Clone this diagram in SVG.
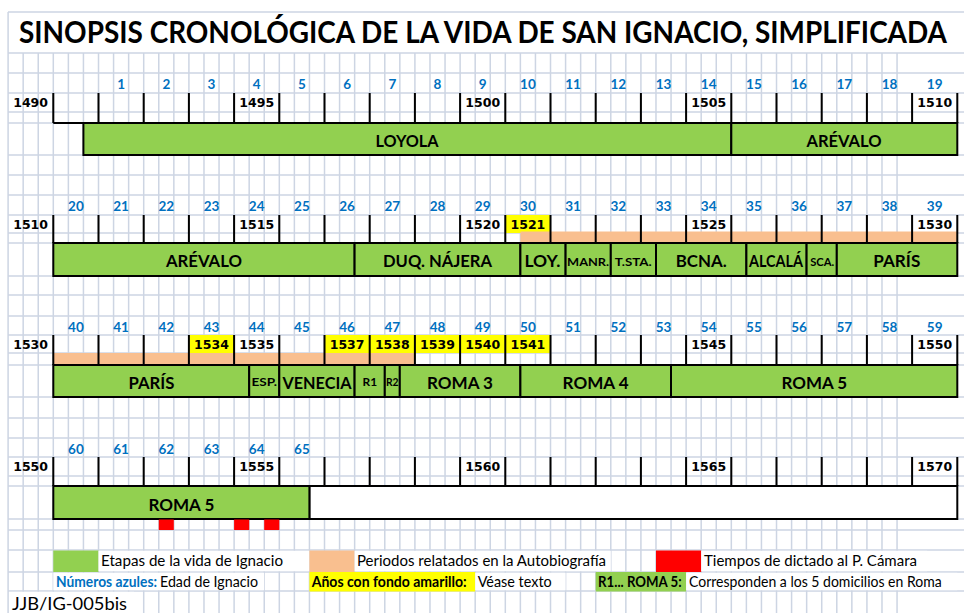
<svg xmlns="http://www.w3.org/2000/svg" width="964" height="613" viewBox="0 0 964 613">
<style>
.grid{fill:none;stroke:#cdd5e3;stroke-width:1.5}
.blk{fill:none;stroke:#000;stroke-width:2}
.bar{fill:#92d050;stroke:#000;stroke-width:2}
.wbar{fill:#fff;stroke:#000;stroke-width:2}
.yel{fill:#ffff00}
.ora{fill:#f9bf8f}
.red{fill:#ff0000}
.wh{fill:#fff}
.lbl{font-family:Lato,"Liberation Sans",sans-serif;font-weight:700;font-size:17px;fill:#000;text-anchor:middle}
.sm{font-size:12px}
.age{font-family:Lato,"Liberation Sans",sans-serif;font-weight:700;font-size:13.5px;fill:#0070c0;text-anchor:middle}
.yr{font-family:"DejaVu Sans",Verdana,sans-serif;font-weight:700;font-size:12.5px;fill:#000;text-anchor:middle}
.leg{font-family:Lato,"Liberation Sans",sans-serif;font-size:15px;fill:#000}
.b{font-weight:700}
.title{font-family:Lato,"Liberation Sans",sans-serif;font-weight:700;font-size:30px;fill:#000}
</style>
<rect x="0" y="0" width="964" height="613" fill="#fff"/>

<g id="grid">
<path class="grid" d="M8.1 12V613M23.17 53V613m15.067-560V613m15.067-560V613m15.067-560V613m15.067-560V613m15.067-560V613m15.067-560V613m15.067-560V613m15.067-560V613m15.067-560V613m15.067-560V613m15.067-560V613m15.067-560V613m15.067-560V613m15.067-560V613m15.067-560V613m15.067-560V613m15.067-560V613m15.067-560V613m15.067-560V613m15.067-560V613m15.067-560V613m15.067-560V613m15.067-560V613m15.067-560V613m15.067-560V613m15.067-560V613m15.067-560V613m15.067-560V613m15.067-560V613m15.067-560V613m15.067-560V613m15.067-560V613m15.067-560V613m15.067-560V613m15.067-560V613m15.067-560V613m15.067-560V613m15.067-560V613m15.067-560V613m15.067-560V613m15.067-560V613m15.067-560V613m15.067-560V613m15.067-560V613m15.067-560V613m15.067-560V613m15.067-560V613m15.067-560V613m15.067-560V613m15.067-560V613m15.067-560V613m15.067-560V613m15.067-560V613m15.067-560V613m15.067-560V613m15.067-560V613m15.067-560V613m15.067-560V613"/>
<path class="grid" d="M8 12H964M8 53H964M8 73H964M8 93H964M8 112H964M8 123H964M8 155H964M8 175H964M8 195H964M8 215H964M8 233H964M8 243H964M8 276H964M8 295H964M8 316H964M8 335H964M8 353H964M8 365H964M8 397H964M8 418H964M8 438H964M8 457H964M8 476H964M8 486H964M8 519H964M8 530H964M8 550H964M8 572H964M8 591H964"/>
</g>

<g id="title">
<text class="title" x="19" y="43" textLength="928" lengthAdjust="spacingAndGlyphs">SINOPSIS CRONOLÓGICA DE LA VIDA DE SAN IGNACIO, SIMPLIFICADA</text>
</g>

<g id="highlights">
<rect class="yel" x="505.3" y="215" width="45.2" height="18"/>
<rect class="yel" x="188.9" y="335" width="45.2" height="18"/>
<rect class="yel" x="324.5" y="335" width="226" height="18"/>
<rect class="ora" x="520.4" y="231.5" width="436.9" height="11.5"/>
<rect class="ora" x="53.3" y="353" width="361.6" height="12"/>
</g>

<g id="timeline-lines">
<path class="blk" d="M53.3 93v30m45.2-30v30m45.2-30v30m45.2-30v30m45.2-30v30m45.2-30v30m45.2-30v30m45.2-30v30m45.2-30v30m45.2-30v30m45.2-30v30m45.2-30v30m45.2-30v30m45.2-30v30m45.2-30v30m45.2-30v30m45.2-30v30m45.2-30v30m45.2-30v30m45.2-30v30m45.2-30v30M53.3 123H957.3"/>
<path class="blk" d="M53.3 215v28m45.2-28v28m45.2-28v28m45.2-28v28m45.2-28v28m45.2-28v28m45.2-28v28m45.2-28v28m45.2-28v28m45.2-28v28m45.2-28v28m45.2-28v28m45.2-28v28m45.2-28v28m45.2-28v28m45.2-28v28m45.2-28v28m45.2-28v28m45.2-28v28m45.2-28v28m45.2-28v28M53.3 243H957.3"/>
<path class="blk" d="M53.3 335v30m45.2-30v30m45.2-30v30m45.2-30v30m45.2-30v30m45.2-30v30m45.2-30v30m45.2-30v30m45.2-30v30m45.2-30v30m45.2-30v30m45.2-30v30m45.2-30v30m45.2-30v30m45.2-30v30m45.2-30v30m45.2-30v30m45.2-30v30m45.2-30v30m45.2-30v30m45.2-30v30M53.3 365H957.3"/>
<path class="blk" d="M53.3 457v29m45.2-29v29m45.2-29v29m45.2-29v29m45.2-29v29m45.2-29v29m45.2-29v29m45.2-29v29m45.2-29v29m45.2-29v29m45.2-29v29m45.2-29v29m45.2-29v29m45.2-29v29m45.2-29v29m45.2-29v29m45.2-29v29m45.2-29v29m45.2-29v29m45.2-29v29m45.2-29v29M53.3 486H957.3"/>
</g>

<g id="ages">
<text class="age" x="121.1" y="88.5">1</text><text class="age" x="166.3" y="88.5">2</text><text class="age" x="211.5" y="88.5">3</text><text class="age" x="256.7" y="88.5">4</text><text class="age" x="301.9" y="88.5">5</text><text class="age" x="347.1" y="88.5">6</text><text class="age" x="392.3" y="88.5">7</text><text class="age" x="437.5" y="88.5">8</text><text class="age" x="482.7" y="88.5">9</text><text class="age" x="527.9" y="88.5">10</text><text class="age" x="573.1" y="88.5">11</text><text class="age" x="618.3" y="88.5">12</text><text class="age" x="663.5" y="88.5">13</text><text class="age" x="708.7" y="88.5">14</text><text class="age" x="753.9" y="88.5">15</text><text class="age" x="799.1" y="88.5">16</text><text class="age" x="844.3" y="88.5">17</text><text class="age" x="889.5" y="88.5">18</text><text class="age" x="934.7" y="88.5">19</text>
<text class="age" x="75.9" y="210.5">20</text><text class="age" x="121.1" y="210.5">21</text><text class="age" x="166.3" y="210.5">22</text><text class="age" x="211.5" y="210.5">23</text><text class="age" x="256.7" y="210.5">24</text><text class="age" x="301.9" y="210.5">25</text><text class="age" x="347.1" y="210.5">26</text><text class="age" x="392.3" y="210.5">27</text><text class="age" x="437.5" y="210.5">28</text><text class="age" x="482.7" y="210.5">29</text><text class="age" x="527.9" y="210.5">30</text><text class="age" x="573.1" y="210.5">31</text><text class="age" x="618.3" y="210.5">32</text><text class="age" x="663.5" y="210.5">33</text><text class="age" x="708.7" y="210.5">34</text><text class="age" x="753.9" y="210.5">35</text><text class="age" x="799.1" y="210.5">36</text><text class="age" x="844.3" y="210.5">37</text><text class="age" x="889.5" y="210.5">38</text><text class="age" x="934.7" y="210.5">39</text>
<text class="age" x="75.9" y="331.5">40</text><text class="age" x="121.1" y="331.5">41</text><text class="age" x="166.3" y="331.5">42</text><text class="age" x="211.5" y="331.5">43</text><text class="age" x="256.7" y="331.5">44</text><text class="age" x="301.9" y="331.5">45</text><text class="age" x="347.1" y="331.5">46</text><text class="age" x="392.3" y="331.5">47</text><text class="age" x="437.5" y="331.5">48</text><text class="age" x="482.7" y="331.5">49</text><text class="age" x="527.9" y="331.5">50</text><text class="age" x="573.1" y="331.5">51</text><text class="age" x="618.3" y="331.5">52</text><text class="age" x="663.5" y="331.5">53</text><text class="age" x="708.7" y="331.5">54</text><text class="age" x="753.9" y="331.5">55</text><text class="age" x="799.1" y="331.5">56</text><text class="age" x="844.3" y="331.5">57</text><text class="age" x="889.5" y="331.5">58</text><text class="age" x="934.7" y="331.5">59</text>
<text class="age" x="75.9" y="453.5">60</text><text class="age" x="121.1" y="453.5">61</text><text class="age" x="166.3" y="453.5">62</text><text class="age" x="211.5" y="453.5">63</text><text class="age" x="256.7" y="453.5">64</text><text class="age" x="301.9" y="453.5">65</text>
</g>

<g id="years">
<text class="yr" x="30.6" y="107.3">1490</text><text class="yr" x="256.7" y="107.3">1495</text><text class="yr" x="482.7" y="107.3">1500</text><text class="yr" x="708.7" y="107.3">1505</text><text class="yr" x="934.7" y="107.3">1510</text>
<text class="yr" x="30.6" y="229.3">1510</text><text class="yr" x="256.7" y="229.3">1515</text><text class="yr" x="482.7" y="229.3">1520</text><text class="yr" x="527.9" y="229.3">1521</text><text class="yr" x="708.7" y="229.3">1525</text><text class="yr" x="934.7" y="229.3">1530</text>
<text class="yr" x="30.6" y="349.3">1530</text><text class="yr" x="211.5" y="349.3">1534</text><text class="yr" x="256.7" y="349.3">1535</text><text class="yr" x="347.1" y="349.3">1537</text><text class="yr" x="392.3" y="349.3">1538</text><text class="yr" x="437.5" y="349.3">1539</text><text class="yr" x="482.7" y="349.3">1540</text><text class="yr" x="527.9" y="349.3">1541</text><text class="yr" x="708.7" y="349.3">1545</text><text class="yr" x="934.7" y="349.3">1550</text>
<text class="yr" x="30.6" y="471.3">1550</text><text class="yr" x="256.7" y="471.3">1555</text><text class="yr" x="482.7" y="471.3">1560</text><text class="yr" x="708.7" y="471.3">1565</text><text class="yr" x="934.7" y="471.3">1570</text>
</g>

<g id="bar-loyola"><rect class="bar" x="83.4" y="123" width="647.9" height="32"/><text class="lbl" x="407" y="147" textLength="63" lengthAdjust="spacingAndGlyphs">LOYOLA</text></g>
<g id="bar-arevalo-1"><rect class="bar" x="731.3" y="123" width="226" height="32"/><text class="lbl" x="844" y="147" textLength="75" lengthAdjust="spacingAndGlyphs">ARÉVALO</text></g>

<g id="bar-arevalo-2"><rect class="bar" x="53.3" y="243" width="301.3" height="33"/><text class="lbl" x="204" y="267.3" textLength="76" lengthAdjust="spacingAndGlyphs">ARÉVALO</text></g>
<g id="bar-duq-najera"><rect class="bar" x="354.6" y="243" width="165.8" height="33"/><text class="lbl" x="437.5" y="267.3" textLength="109" lengthAdjust="spacingAndGlyphs">DUQ. NÁJERA</text></g>
<g id="bar-loy"><rect class="bar" x="520.4" y="243" width="45.2" height="33"/><text class="lbl" x="542.5" y="267.3" textLength="36" lengthAdjust="spacingAndGlyphs">LOY.</text></g>
<g id="bar-manr"><rect class="bar" x="565.6" y="243" width="45.2" height="33"/><text class="lbl sm" x="588.1" y="265.5" textLength="42" lengthAdjust="spacingAndGlyphs">MANR.</text></g>
<g id="bar-tsta"><rect class="bar" x="610.8" y="243" width="45.2" height="33"/><text class="lbl sm" x="633.2" y="265.5" textLength="37" lengthAdjust="spacingAndGlyphs">T.STA.</text></g>
<g id="bar-bcna"><rect class="bar" x="656" y="243" width="90.4" height="33"/><text class="lbl" x="701.2" y="267.3" textLength="51" lengthAdjust="spacingAndGlyphs">BCNA.</text></g>
<g id="bar-alcala"><rect class="bar" x="746.4" y="243" width="60.2" height="33"/><text class="lbl" x="776" y="267.3" textLength="54" lengthAdjust="spacingAndGlyphs">ALCALÁ</text></g>
<g id="bar-sca"><rect class="bar" x="806.6" y="243" width="30.2" height="33"/><text class="lbl" x="822.2" y="265.5" style="font-size:10.5px" textLength="24" lengthAdjust="spacingAndGlyphs">SCA.</text></g>
<g id="bar-paris-2"><rect class="bar" x="836.8" y="243" width="120.5" height="33"/><text class="lbl" x="896.8" y="267.3" textLength="47" lengthAdjust="spacingAndGlyphs">PARÍS</text></g>

<g id="bar-paris-3"><rect class="bar" x="53.3" y="365" width="195.9" height="32"/><text class="lbl" x="151.5" y="388.5" textLength="46" lengthAdjust="spacingAndGlyphs">PARÍS</text></g>
<g id="bar-esp"><rect class="bar" x="249.2" y="365" width="30.1" height="32"/><text class="lbl" x="264.3" y="385.5" style="font-size:11.5px" textLength="25.6" lengthAdjust="spacingAndGlyphs">ESP.</text></g>
<g id="bar-venecia"><rect class="bar" x="279.3" y="365" width="75.3" height="32"/><text class="lbl" x="317" y="388.5" textLength="69" lengthAdjust="spacingAndGlyphs">VENECIA</text></g>
<g id="bar-r1"><rect class="bar" x="354.6" y="365" width="30.2" height="32"/><text class="lbl" x="369.9" y="386" style="font-size:11.5px" textLength="14.6" lengthAdjust="spacingAndGlyphs">R1</text></g>
<g id="bar-r2"><rect class="bar" x="384.8" y="365" width="15" height="32"/><text class="lbl" x="392.2" y="386" style="font-size:10.5px" textLength="12.6" lengthAdjust="spacingAndGlyphs">R2</text></g>
<g id="bar-roma3"><rect class="bar" x="399.8" y="365" width="120.6" height="32"/><text class="lbl" x="460" y="388.5" textLength="66" lengthAdjust="spacingAndGlyphs">ROMA 3</text></g>
<g id="bar-roma4"><rect class="bar" x="520.4" y="365" width="150.6" height="32"/><text class="lbl" x="595.6" y="388.5" textLength="66" lengthAdjust="spacingAndGlyphs">ROMA 4</text></g>
<g id="bar-roma5-3"><rect class="bar" x="671" y="365" width="286.3" height="32"/><text class="lbl" x="814.3" y="388.5" textLength="65.6" lengthAdjust="spacingAndGlyphs">ROMA 5</text></g>

<g id="bar-empty-4"><rect class="wbar" x="309.4" y="486" width="647.9" height="33"/></g>
<g id="bar-roma5-4"><rect class="bar" x="53.3" y="486" width="256.1" height="33"/><text class="lbl" x="181.4" y="510.5" textLength="66" lengthAdjust="spacingAndGlyphs">ROMA 5</text></g>

<g id="dictation-marks">
<rect class="red" x="158.8" y="519.5" width="15" height="10.5"/>
<rect class="red" x="234.1" y="519.5" width="15.1" height="10.5"/>
<rect class="red" x="264.2" y="519.5" width="15.1" height="10.5"/>
</g>

<g id="legend">
<rect fill="#92d050" x="53.3" y="550.5" width="45.2" height="21.5"/>
<rect class="wh" x="98.5" y="550.8" width="210.9" height="20.4"/>
<text class="leg" x="101" y="566" textLength="182" lengthAdjust="spacingAndGlyphs">Etapas de la vida de Ignacio</text>
<rect class="ora" x="309.4" y="550.5" width="45.2" height="21.5"/>
<rect class="wh" x="354.6" y="550.8" width="256.2" height="20.4"/>
<text class="leg" x="357" y="566" textLength="249" lengthAdjust="spacingAndGlyphs">Periodos relatados en la Autobiografía</text>
<rect class="red" x="656" y="550.5" width="45.2" height="21.5"/>
<rect class="wh" x="701.2" y="550.8" width="226" height="20.4"/>
<text class="leg" x="704" y="566" textLength="213" lengthAdjust="spacingAndGlyphs">Tiempos de dictado al P. Cámara</text>

<rect class="wh" x="53.3" y="572.8" width="210.9" height="17.4"/>
<text class="leg b" x="56" y="586.5" style="fill:#0070c0" textLength="101" lengthAdjust="spacingAndGlyphs">Números azules:</text>
<text class="leg" x="160" y="586.5" textLength="98" lengthAdjust="spacingAndGlyphs">Edad de Ignacio</text>
<rect class="yel" x="309.4" y="572" width="165.8" height="19.5"/>
<text class="leg b" x="311.7" y="586.5" textLength="155" lengthAdjust="spacingAndGlyphs">Años con fondo amarillo:</text>
<rect class="wh" x="475.2" y="572.8" width="90.4" height="17.4"/>
<text class="leg" x="477.7" y="586.5" textLength="74" lengthAdjust="spacingAndGlyphs">Véase texto</text>
<rect fill="#92d050" x="595.7" y="572" width="90.4" height="19.5"/>
<text class="leg b" x="598" y="586.5" textLength="83.7" lengthAdjust="spacingAndGlyphs">R1... ROMA 5:</text>
<rect class="wh" x="686.1" y="572.8" width="271.2" height="17.4"/>
<text class="leg" x="689" y="586.5" textLength="252.7" lengthAdjust="spacingAndGlyphs">Corresponden a los 5 domicilios en Roma</text>
</g>

<g id="footer">
<rect class="wh" x="9" y="591.8" width="125" height="21.2"/>
<text class="leg" x="12" y="609.5" style="font-size:18px" textLength="115" lengthAdjust="spacingAndGlyphs">JJB/IG-005bis</text>
</g>
</svg>
